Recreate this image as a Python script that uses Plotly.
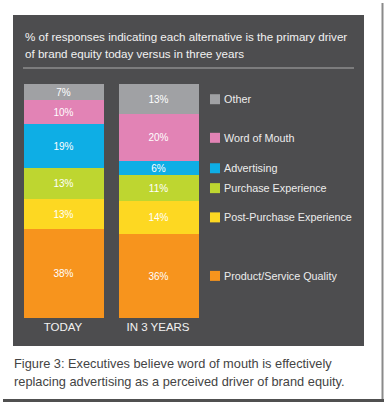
import plotly.graph_objects as go

W, H = 386, 404

categories = ["TODAY", "IN 3 YEARS"]
# stacked bottom -> top
series_names = ["Product/Service Quality", "Post-Purchase Experience", "Purchase Experience",
                "Advertising", "Word of Mouth", "Other"]
today = [38, 13, 13, 19, 10, 7]
in3years = [36, 14, 11, 6, 20, 13]
colors = ["#f7941d", "#fdd822", "#bed630", "#0eaee5", "#e283b5", "#a0a1a4"]

title_lines = ["% of responses indicating each alternative is the primary driver",
               "of brand equity today versus in three years"]
caption_lines = ["Figure 3: Executives believe word of mouth is effectively",
                 "replacing advertising as a perceived driver of brand equity."]

FONT = "Liberation Sans, Arial, sans-serif"

def px(x):
    return x / W

def py(y):
    return 1 - y / H

fig = go.Figure()
for i, name in enumerate(series_names):
    fig.add_trace(go.Bar(
        x=[0, 1], y=[today[i], in3years[i]], name=name,
        marker=dict(color=colors[i], line=dict(width=0)),
        width=80 / 95,
        text=[f"{today[i]}%", f"{in3years[i]}%"],
        textposition="inside", insidetextanchor="middle", textangle=0,
        textfont=dict(color="white", size=10, family=FONT),
        showlegend=False, hoverinfo="skip",
    ))

# plot geometry: y 0 at px 318, 100 at px 84
y_bot, y_top = 318, 84
unit = (y_bot - y_top) / 100.0

shapes = [
    # frame shadow
    dict(type="line", xref="paper", yref="paper", x0=px(382.5), x1=px(382.5), y0=py(3), y1=py(401),
         line=dict(color="#8a8a8a", width=2)),
    dict(type="line", xref="paper", yref="paper", x0=px(3), x1=px(384), y0=py(400.5), y1=py(400.5),
         line=dict(color="#505050", width=3)),
    # panel
    dict(type="rect", xref="paper", yref="paper", x0=px(13), x1=px(364), y0=py(346), y1=py(15),
         fillcolor="#4d4d4f", line=dict(width=0), layer="below"),
    # separator
    dict(type="line", xref="paper", yref="paper", x0=px(23), x1=px(354), y0=py(68), y1=py(68),
         line=dict(color="#8c8c8c", width=1.5)),
]

annotations = []
for k, t in enumerate(title_lines):
    annotations.append(dict(text=t, xref="paper", yref="paper", x=px(23), y=py(37 + 16 * k),
                            xanchor="left", yanchor="middle", showarrow=False,
                            font=dict(color="#f2f2f2", size=11.6, family=FONT)))
for k, t in enumerate(caption_lines):
    annotations.append(dict(text=t, xref="paper", yref="paper", x=px(12), y=py(363 + 18 * k),
                            xanchor="left", yanchor="middle", showarrow=False,
                            font=dict(color="#444444", size=12.8, family=FONT)))

# legend aligned with second-bar segment centers
cum = 0
half = 5 / unit
for i, name in enumerate(series_names):
    c = cum + in3years[i] / 2
    cum += in3years[i]
    shapes.append(dict(type="rect", xref="paper", yref="y", x0=px(210), x1=px(220),
                       y0=c - half, y1=c + half, fillcolor=colors[i], line=dict(width=0)))
    annotations.append(dict(text=name, xref="paper", yref="y", x=px(222), y=c,
                            xanchor="left", yanchor="middle", showarrow=False,
                            font=dict(color="#ececec", size=10.8, family=FONT)))

fig.update_layout(
    width=W, height=H, margin=dict(l=0, r=0, t=0, b=0),
    paper_bgcolor="white", plot_bgcolor="rgba(0,0,0,0)",
    barmode="stack", bargap=0,
    uniformtext=dict(minsize=10, mode="show"),
    xaxis=dict(domain=[px(15.5), px(205.5)], range=[-0.5, 1.5], tickvals=[0, 1], ticktext=categories,
               showgrid=False, zeroline=False, showline=False, ticks="",
               tickfont=dict(color="#f2f2f2", size=11.5, family=FONT), fixedrange=True),
    yaxis=dict(domain=[py(y_bot), py(y_top)], range=[0, 100], visible=False, fixedrange=True),
    shapes=shapes, annotations=annotations,
    showlegend=False,
)

fig.write_html("out.html", config={"displayModeBar": False},
               post_script="document.body.style.margin='0px';document.body.style.overflow='hidden';")
